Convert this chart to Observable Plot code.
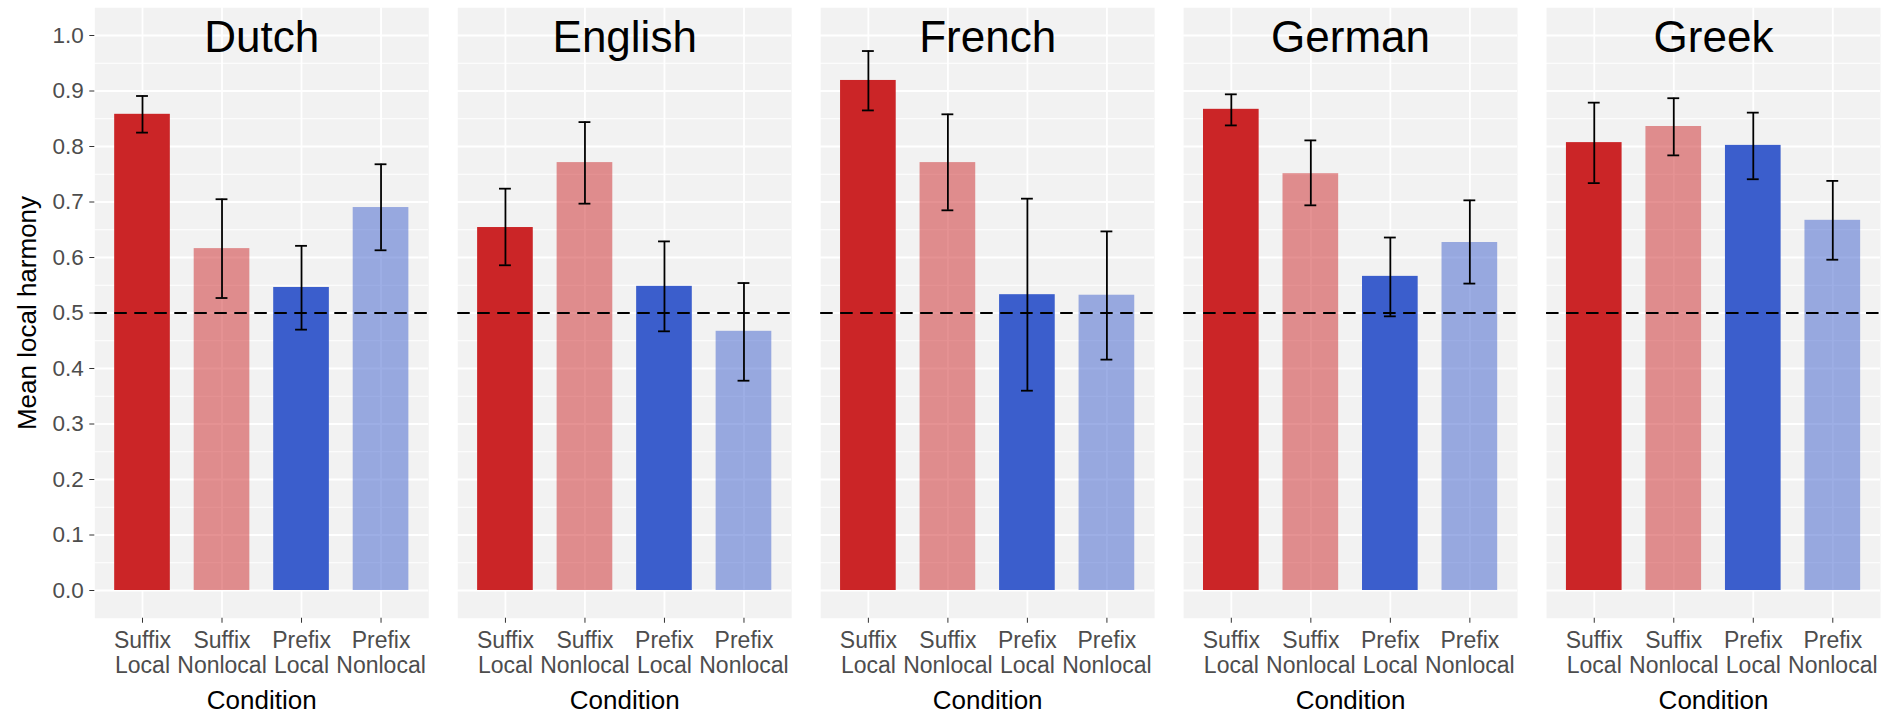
<!DOCTYPE html>
<html>
<head>
<meta charset="utf-8">
<script src="https://cdn.jsdelivr.net/npm/d3@7"></script>
<script src="https://cdn.jsdelivr.net/npm/@observablehq/plot@0.6"></script>
<style>
  html, body { margin: 0; padding: 0; background: #ffffff; }
  #chart svg { display: block; }
</style>
</head>
<body>
<div id="chart"></div>
<script>
// Languages (one panel each) and experimental conditions (one bar each)
const languages = ["Dutch", "English", "French", "German", "Greek"];
const conditions = ["Suffix Local", "Suffix Nonlocal", "Prefix Local", "Prefix Nonlocal"];
const conditionLabels = ["Suffix\nLocal", "Suffix\nNonlocal", "Prefix\nLocal", "Prefix\nNonlocal"];

// Mean local harmony per language, in the order of `conditions`
const meanHarmony = [
  [0.858, 0.616, 0.546, 0.690],  // Dutch
  [0.654, 0.771, 0.548, 0.467],  // English
  [0.919, 0.771, 0.533, 0.532],  // French
  [0.867, 0.751, 0.566, 0.627],  // German
  [0.807, 0.836, 0.802, 0.667]   // Greek
];
// Error bar bounds
const lowerBound = [
  [0.825, 0.527, 0.470, 0.613],
  [0.586, 0.697, 0.467, 0.378],
  [0.865, 0.685, 0.360, 0.416],
  [0.838, 0.694, 0.494, 0.553],
  [0.734, 0.784, 0.741, 0.596]
];
const upperBound = [
  [0.891, 0.705, 0.621, 0.768],
  [0.724, 0.844, 0.629, 0.554],
  [0.972, 0.858, 0.706, 0.647],
  [0.894, 0.811, 0.636, 0.703],
  [0.879, 0.887, 0.861, 0.738]
];

const yTicks = [0, 0.1, 0.2, 0.3, 0.4, 0.5, 0.6, 0.7, 0.8, 0.9, 1.0];
const yMinor = yTicks.slice(0, -1).map(v => v + 0.05);
const chanceLevel = 0.5;

const suffixRed = "#CB2527";
const prefixBlue = "#3B5ECC";

const rows = languages.flatMap((lang, i) =>
  conditions.map((cond, j) => ({
    lang,
    cond,
    mean: meanHarmony[i][j],
    lo: lowerBound[i][j],
    hi: upperBound[i][j]
  }))
);

const font = "'Liberation Sans', Arial, Helvetica, sans-serif";

const chart = Plot.plot({
  width: 1888,
  height: 714,
  marginLeft: 94.3,
  marginRight: 8,
  marginTop: 7.25,
  marginBottom: 96.25,
  style: { fontFamily: font, background: "#ffffff", overflow: "visible" },
  fx: { domain: languages, axis: null, paddingInner: 0.0799, paddingOuter: 0, round: false, label: null },
  x: { domain: conditions, paddingInner: 0.3, paddingOuter: 0.25, round: false, label: null },
  y: { domain: [-0.05, 1.05], label: null },
  color: { domain: conditions, range: [suffixRed, suffixRed, prefixBlue, prefixBlue] },
  marks: [
    Plot.frame({ fill: "#F2F2F2" }),
    Plot.gridY({ ticks: yMinor, stroke: "#ffffff", strokeOpacity: 1, strokeWidth: 1 }),
    Plot.gridY({ ticks: yTicks, stroke: "#ffffff", strokeOpacity: 1, strokeWidth: 1.8 }),
    Plot.gridX({ stroke: "#ffffff", strokeOpacity: 1, strokeWidth: 1.8 }),
    Plot.barY(rows, {
      fx: "lang",
      x: "cond",
      y: "mean",
      fill: "cond",
      fillOpacity: d => d.cond.endsWith("Nonlocal") ? 0.5 : 1
    }),
    Plot.ruleY([chanceLevel], { stroke: "#000000", strokeWidth: 1.8, strokeDasharray: "12.5,7.5" }),
    Plot.ruleX(rows, { fx: "lang", x: "cond", y1: "lo", y2: "hi", stroke: "#000000", strokeWidth: 1.8 }),
    Plot.tickY(rows, { fx: "lang", x: "cond", y: "lo", stroke: "#000000", strokeWidth: 1.8, inset: 21.9 }),
    Plot.tickY(rows, { fx: "lang", x: "cond", y: "hi", stroke: "#000000", strokeWidth: 1.8, inset: 21.9 }),
    Plot.axisY({
      ticks: yTicks,
      tickFormat: d3.format(".1f"),
      tickSize: 5,
      tickPadding: 6,
      fontSize: 22.5,
      fill: "#4D4D4D",
      stroke: "#333333",
      label: null
    }),
    Plot.axisX({
      tickFormat: d => conditionLabels[conditions.indexOf(d)],
      tickSize: 5,
      tickPadding: 6.5,
      fontSize: 23,
      lineHeight: 1.087,
      fill: "#4D4D4D",
      stroke: "#333333",
      label: null
    }),
    // Language name inside the top of each panel
    Plot.text(languages, {
      fx: d => d,
      text: d => d,
      frameAnchor: "top",
      lineAnchor: "bottom",
      dy: 44.5,
      fontSize: 44,
      fill: "#000000"
    }),
    // X axis title under each panel
    Plot.text(languages, {
      fx: d => d,
      text: () => "Condition",
      frameAnchor: "bottom",
      lineAnchor: "bottom",
      dy: 91,
      fontSize: 26,
      fill: "#000000"
    }),
    // Y axis title on the first panel only, centred on the panel height
    Plot.text([languages[0]], {
      fx: d => d,
      text: () => "Mean local harmony",
      frameAnchor: "left",
      textAnchor: "middle",
      lineAnchor: "bottom",
      rotate: -90,
      dx: -58.8,
      fontSize: 26,
      fill: "#000000"
    })
  ]
});

document.getElementById("chart").appendChild(chart);
</script>
</body>
</html>
